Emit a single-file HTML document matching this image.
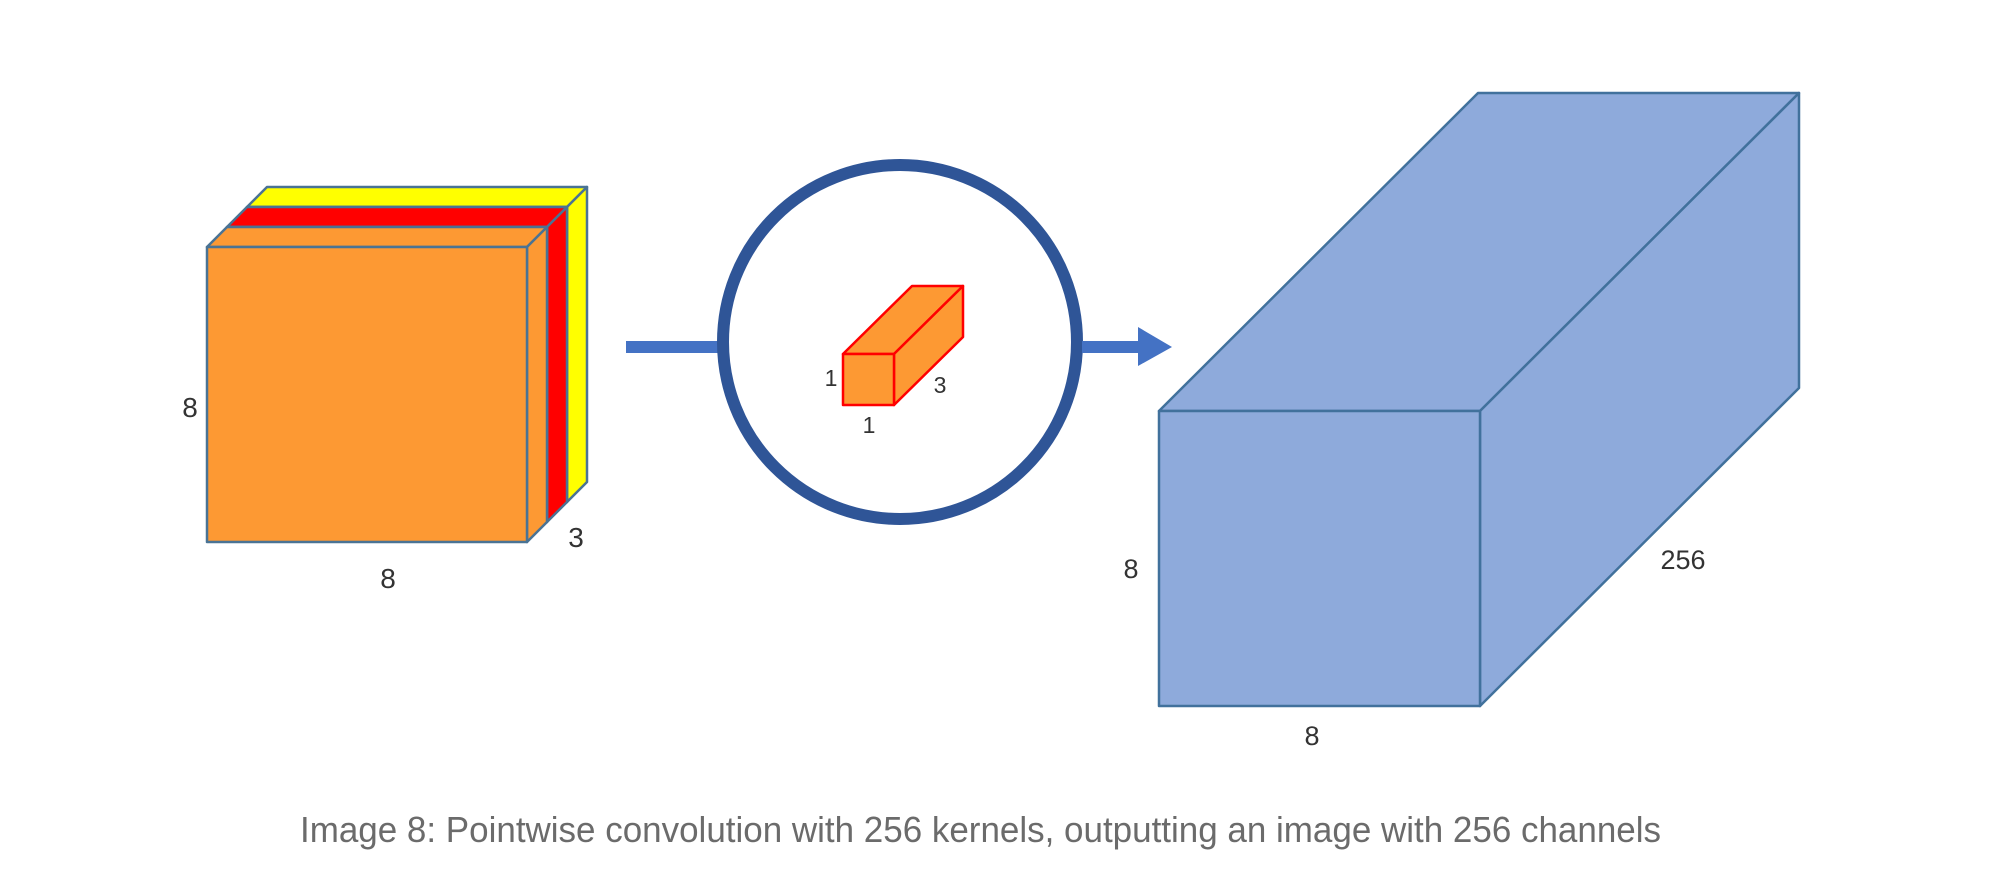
<!DOCTYPE html>
<html><head><meta charset="utf-8"><style>
html,body{margin:0;padding:0;background:#fff;}
svg{display:block;}
text{font-family:"Liberation Sans",sans-serif;}
</style></head><body>
<svg width="2001" height="895" viewBox="0 0 2001 895">
<g stroke="#4a7394" stroke-width="2.5" stroke-linejoin="round">
  <g fill="#ffff00">
    <polygon points="247,207 267,187 587,187 567,207"/>
    <polygon points="567,207 587,187 587,482 567,502"/>
    <rect x="247" y="207" width="320" height="295"/>
  </g>
  <g fill="#ff0000">
    <polygon points="227,227 247,207 567,207 547,227"/>
    <polygon points="547,227 567,207 567,502 547,522"/>
    <rect x="227" y="227" width="320" height="295"/>
  </g>
  <g fill="#fd9933">
    <polygon points="207,247 227,227 547,227 527,247"/>
    <polygon points="527,247 547,227 547,522 527,542"/>
    <rect x="207" y="247" width="320" height="295"/>
  </g>
</g>
<text x="190" y="417" font-size="28" fill="#333" text-anchor="middle">8</text>
<text x="388" y="588" font-size="28" fill="#333" text-anchor="middle">8</text>
<text x="576" y="547" font-size="28" fill="#333" text-anchor="middle">3</text>

<rect x="626" y="341" width="92" height="12" fill="#4472c4"/>
<circle cx="900" cy="342" r="177" fill="none" stroke="#2f5597" stroke-width="12"/>
<g fill="#4472c4">
  <rect x="1082" y="341" width="58" height="12"/>
  <polygon points="1138,327 1172,347 1138,366"/>
</g>

<g fill="#fd9933" stroke="#ff0000" stroke-width="2.5" stroke-linejoin="round">
  <polygon points="843,354 912,286 963,286 894,354"/>
  <polygon points="894,354 963,286 963,337 894,405"/>
  <rect x="843" y="354" width="51" height="51"/>
</g>
<text x="831" y="386" font-size="23" fill="#333" text-anchor="middle">1</text>
<text x="869" y="433" font-size="23" fill="#333" text-anchor="middle">1</text>
<text x="940" y="393" font-size="23" fill="#333" text-anchor="middle">3</text>

<g fill="#8eaadb" stroke="#41719c" stroke-width="2.5" stroke-linejoin="round">
  <polygon points="1159,411 1478,93 1799,93 1480,411"/>
  <polygon points="1480,411 1799,93 1799,388 1480,706"/>
  <rect x="1159" y="411" width="321" height="295"/>
</g>
<text x="1131" y="578" font-size="27" fill="#333" text-anchor="middle">8</text>
<text x="1312" y="745" font-size="27" fill="#333" text-anchor="middle">8</text>
<text x="1683" y="569" font-size="27" fill="#333" text-anchor="middle">256</text>

<text x="300" y="842" font-size="36" fill="#6b6b6b" textLength="1361" lengthAdjust="spacingAndGlyphs">Image 8: Pointwise convolution with 256 kernels, outputting an image with 256 channels</text>
</svg>
</body></html>
